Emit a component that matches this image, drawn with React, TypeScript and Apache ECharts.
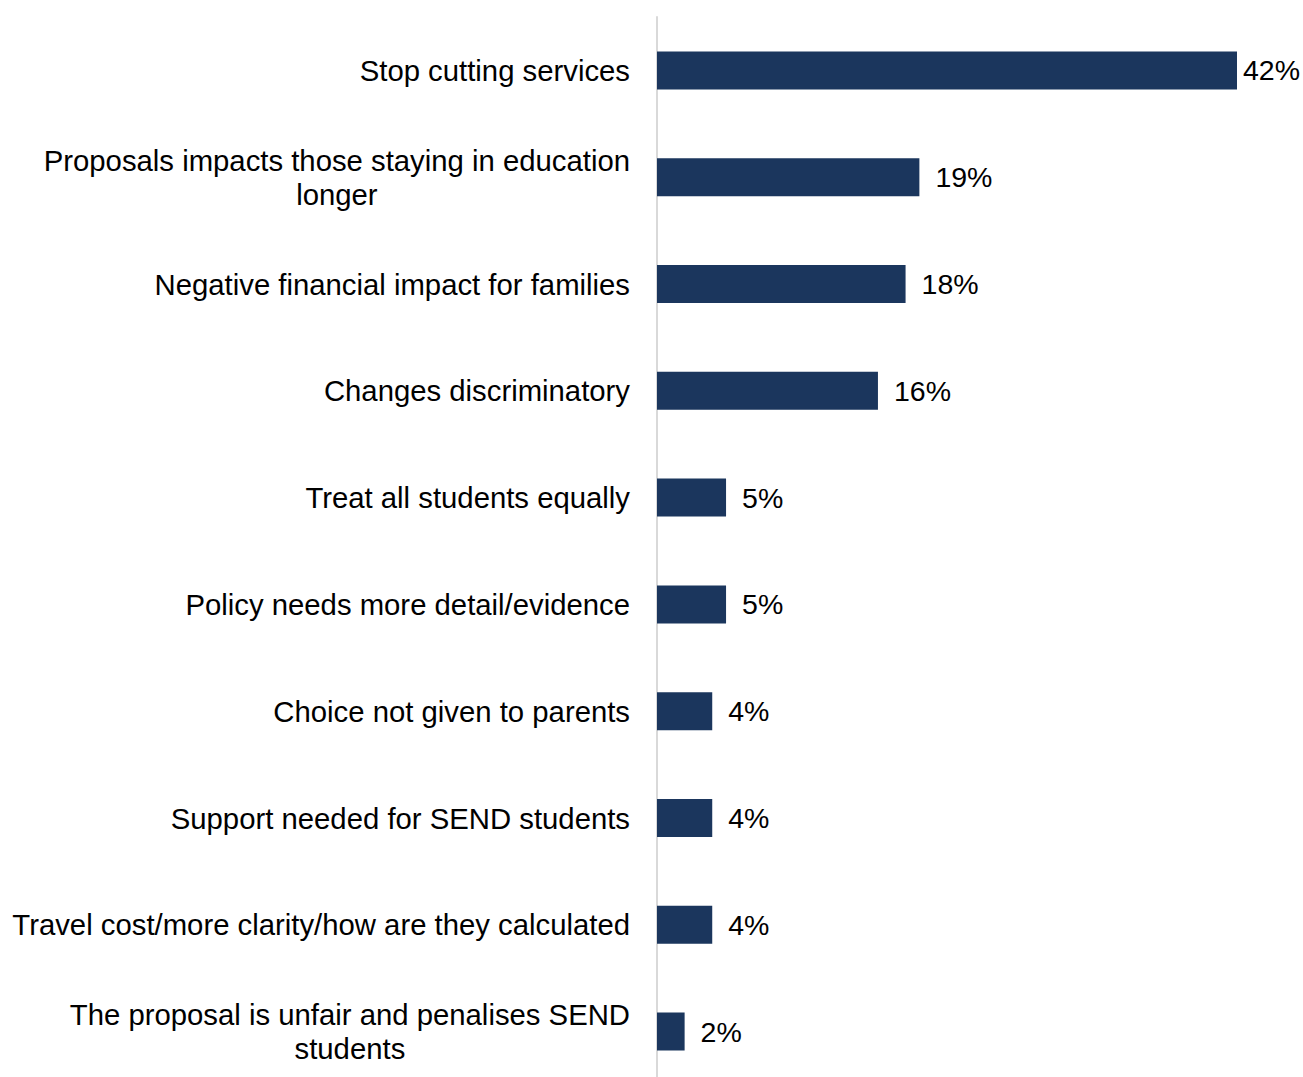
import React, { useEffect, useRef } from "react";
import * as echarts from "echarts";

const categories = [
  "Stop cutting services",
  "Proposals impacts those staying in education\nlonger",
  "Negative financial impact for families",
  "Changes discriminatory",
  "Treat all students equally",
  "Policy needs more detail/evidence",
  "Choice not given to parents",
  "Support needed for SEND students",
  "Travel cost/more clarity/how are they calculated",
  "The proposal is unfair and penalises SEND\nstudents",
];
const values = [42, 19, 18, 16, 5, 5, 4, 4, 4, 2];

const FONT = "'Liberation Sans', Arial, sans-serif";
const FS = 29.3;
const VFS = 28.5;

export default function App() {
  const ref = useRef<HTMLDivElement>(null);
  useEffect(() => {
    if (!ref.current) return;
    const chart = echarts.init(ref.current, undefined, { renderer: "svg" });
    chart.setOption({
      animation: false,
      backgroundColor: "#ffffff",
      grid: { left: 657, top: 17, width: 580, height: 1068, containLabel: false },
      xAxis: {
        type: "value",
        min: 0,
        max: 42,
        show: false,
      },
      yAxis: {
        type: "category",
        inverse: true,
        data: categories,
        axisLine: { show: true, lineStyle: { color: "#d9d9d9", width: 2 } },
        axisTick: { show: false },
        splitLine: { show: false },
        axisLabel: {
          margin: 27,
          color: "#000000",
          fontFamily: FONT,
          fontSize: FS,
          lineHeight: 34,
          formatter: (v: string) =>
            v
              .split("\n")
              .map((l) => "{c|" + l + "}")
              .join("\n"),
          rich: {
            c: {
              align: "center",
              color: "#000000",
              fontFamily: FONT,
              fontSize: FS,
              lineHeight: 34,
            },
          },
        },
      },
      series: [
        {
          type: "bar",
          barWidth: 38,
          itemStyle: { color: "#1b365d" },
          data: values.map((v, i) => ({
            value: v,
            label: { distance: i === 0 ? 6 : 16 },
          })),
          label: {
            show: true,
            position: "right",
            formatter: "{c}%",
            color: "#000000",
            fontFamily: FONT,
            fontSize: VFS,
          },
        },
      ],
    });
    return () => chart.dispose();
  }, []);
  return (
    <div
      style={{
        position: "absolute",
        left: 0,
        top: 0,
        width: 1303,
        height: 1077,
        overflow: "hidden",
      }}
    >
      <div ref={ref} style={{ width: 1303, height: 1100 }} />
    </div>
  );
}
